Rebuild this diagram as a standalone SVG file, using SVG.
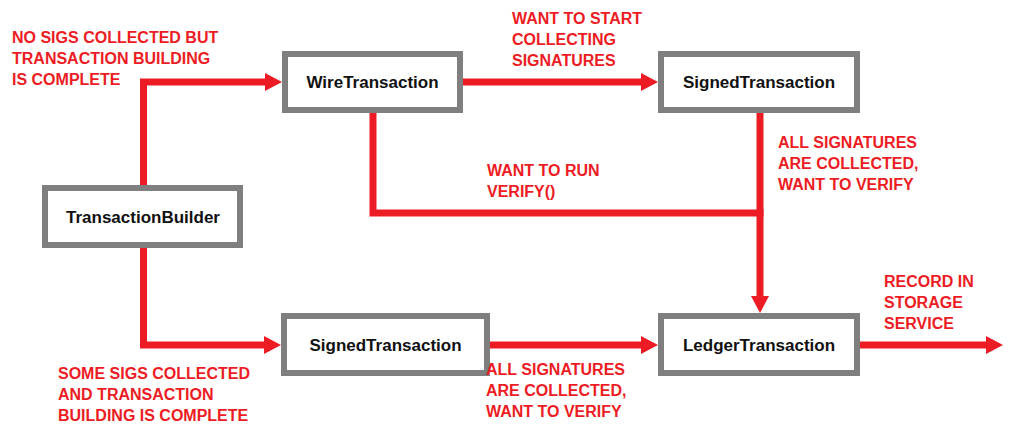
<svg xmlns="http://www.w3.org/2000/svg" width="1024" height="436" viewBox="0 0 1024 436">
  <style>
    .box { fill: #ffffff; stroke: #7f7f7f; stroke-width: 6; }
    .lbl { font-family: "Liberation Sans", Arial, sans-serif; font-weight: bold; font-size: 17px; fill: #111111; text-anchor: middle; }
    .note { font-family: "Liberation Sans", Arial, sans-serif; font-weight: bold; font-size: 16px; fill: #ed1c24; }
    .wire { fill: none; stroke: #ed1c24; stroke-width: 7; stroke-linejoin: miter; marker-end: none; }
    .arr { marker-end: url(#ah); }
  </style>
  <defs>
    <marker id="ah" markerUnits="userSpaceOnUse" markerWidth="18" markerHeight="20" refX="1" refY="9" orient="auto">
      <path d="M0,0 L17,9 L0,18 Z" fill="#ed1c24"/>
    </marker>
  </defs>
  <rect width="1024" height="436" fill="#ffffff"/>

  <g id="connectors">
    <path class="wire arr" d="M143.5,190 V82 H266"/>
    <path class="wire arr" d="M143.5,245 V345 H265"/>
    <path class="wire arr" d="M463,82 H642"/>
    <path class="wire" d="M373,110 V213 H763.5"/>
    <path class="wire arr" d="M760,110 V297"/>
    <path class="wire arr" d="M490,345 H642"/>
    <path class="wire arr" d="M860,345 H987"/>
  </g>

  <g id="n-transactionbuilder">
    <rect class="box" x="45" y="188" width="195" height="57"/>
    <text class="lbl" x="143" y="223">TransactionBuilder</text>
  </g>
  <g id="n-wiretransaction">
    <rect class="box" x="285" y="54" width="175" height="56"/>
    <text class="lbl" x="372.5" y="88">WireTransaction</text>
  </g>
  <g id="n-signedtransaction-top">
    <rect class="box" x="661" y="54" width="196" height="56"/>
    <text class="lbl" x="759" y="88">SignedTransaction</text>
  </g>
  <g id="n-signedtransaction-bottom">
    <rect class="box" x="284" y="316" width="203" height="57"/>
    <text class="lbl" x="385.5" y="351">SignedTransaction</text>
  </g>
  <g id="n-ledgertransaction">
    <rect class="box" x="661" y="316" width="196" height="57"/>
    <text class="lbl" x="759" y="351">LedgerTransaction</text>
  </g>

  <g id="labels">
    <text class="note" x="12" y="43">NO SIGS COLLECTED BUT</text>
    <text class="note" x="12" y="64">TRANSACTION BUILDING</text>
    <text class="note" x="12" y="85">IS COMPLETE</text>

    <text class="note" x="512" y="24">WANT TO START</text>
    <text class="note" x="512" y="45">COLLECTING</text>
    <text class="note" x="512" y="66">SIGNATURES</text>

    <text class="note" x="778" y="148">ALL SIGNATURES</text>
    <text class="note" x="778" y="169">ARE COLLECTED,</text>
    <text class="note" x="778" y="190">WANT TO VERIFY</text>

    <text class="note" x="487" y="176">WANT TO RUN</text>
    <text class="note" x="487" y="197">VERIFY()</text>

    <text class="note" x="884" y="287">RECORD IN</text>
    <text class="note" x="884" y="308">STORAGE</text>
    <text class="note" x="884" y="329">SERVICE</text>

    <text class="note" x="58" y="379">SOME SIGS COLLECTED</text>
    <text class="note" x="58" y="400">AND TRANSACTION</text>
    <text class="note" x="58" y="421">BUILDING IS COMPLETE</text>

    <text class="note" x="486" y="375">ALL SIGNATURES</text>
    <text class="note" x="486" y="396">ARE COLLECTED,</text>
    <text class="note" x="486" y="417">WANT TO VERIFY</text>
  </g>
</svg>
